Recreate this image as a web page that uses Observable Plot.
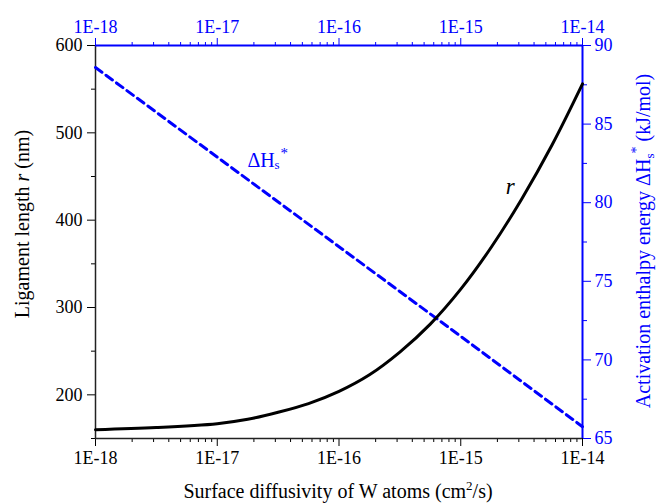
<!DOCTYPE html>
<html>
<head>
<meta charset="utf-8">
<script src="https://cdn.jsdelivr.net/npm/d3@7"></script>
<script src="https://cdn.jsdelivr.net/npm/@observablehq/plot@0.6"></script>
<style>
  body { margin: 0; background: #fff; }
</style>
</head>
<body>
<div id="chart"></div>
<script>
// ---- data ----
const diffusivity = [1e-18, 3.16e-18, 1e-17, 1.78e-17, 3.16e-17, 5.62e-17, 1e-16, 1.78e-16, 3.16e-16, 5.62e-16, 1e-15, 1.78e-15, 3.16e-15, 5.62e-15, 1e-14];
const ligamentLength = [160, 162.5, 167, 172, 180, 190, 204, 223, 249, 281, 321, 369, 424, 486, 556];

const enthalpyDiffusivity = [1e-18, 1e-17, 1e-16, 1e-15, 1e-14];
const activationEnthalpy = [88.6, 82.9, 77.2, 71.5, 65.75];

const xDecades = [1e-18, 1e-17, 1e-16, 1e-15, 1e-14];
const xTickLabels = ["1E-18", "1E-17", "1E-16", "1E-15", "1E-14"];
const leftMajor = [200, 300, 400, 500, 600];
const leftMinor = [150, 250, 350, 450, 550];
const rightMajor = [65, 70, 75, 80, 85, 90];
const rightMinor = [67.5, 72.5, 77.5, 82.5, 87.5];

// ---- setup ----
const font = "Liberation Serif";
const blue = "#0000ff";
const xMinor = xDecades.slice(0, -1).flatMap(d => d3.range(2, 10).map(k => d * k));
const H2r = d3.scaleLinear([65, 90], [150, 600]);

const rData = diffusivity.map((D, i) => ({D, r: ligamentLength[i]}));
const hData = enthalpyDiffusivity.map((D, i) => ({D, H: activationEnthalpy[i]}));

const xLabel = d => xTickLabels[xDecades.indexOf(d)] ?? "";
const axisCommon = {label: null, fontSize: 18, fontFamily: font};

const plot = Plot.plot({
  width: 656,
  height: 504,
  marginLeft: 95,
  marginRight: 74,
  marginTop: 45,
  marginBottom: 66,
  style: {fontFamily: font, fontSize: "18px", background: "white", color: "black", overflow: "visible"},
  x: {type: "log", domain: [1e-18, 1e-14]},
  y: {domain: [150, 600]},
  marks: [
    // bottom axis (black)
    Plot.axisX({...axisCommon, anchor: "bottom", ticks: xDecades, tickFormat: xLabel, tickSize: 8, tickPadding: 5}),
    Plot.axisX({...axisCommon, anchor: "bottom", ticks: xMinor, tickFormat: () => "", tickSize: 4}),
    // top axis (blue)
    Plot.axisX({...axisCommon, anchor: "top", ticks: xDecades, tickFormat: xLabel, tickSize: 8, tickPadding: 5, color: blue}),
    Plot.axisX({...axisCommon, anchor: "top", ticks: xMinor, tickFormat: () => "", tickSize: 4, color: blue}),
    // left axis (black)
    Plot.axisY({...axisCommon, anchor: "left", ticks: leftMajor, tickSize: 8, tickPadding: 5}),
    Plot.axisY({...axisCommon, anchor: "left", ticks: leftMinor, tickFormat: () => "", tickSize: 4}),
    // right axis (blue), values mapped from ΔH to the r scale
    Plot.axisY(rightMajor.map(H2r), {...axisCommon, anchor: "right", tickFormat: d => String(Math.round(H2r.invert(d))), tickSize: 8, tickPadding: 4, color: blue}),
    Plot.axisY(rightMinor.map(H2r), {...axisCommon, anchor: "right", tickFormat: () => "", tickSize: 4, color: blue}),
    // frame lines
    Plot.ruleY([150], {stroke: "#222", strokeWidth: 1.5}),
    Plot.ruleX([1e-18], {stroke: "#222", strokeWidth: 1.5}),
    Plot.ruleY([600], {stroke: blue, strokeWidth: 2}),
    Plot.ruleX([1e-14], {stroke: blue, strokeWidth: 2}),
    // series
    Plot.line(hData, {x: "D", y: d => H2r(d.H), stroke: blue, strokeWidth: 3, strokeDasharray: "8,5"}),
    Plot.line(rData, {x: "D", y: "r", stroke: "black", strokeWidth: 3, curve: "catmull-rom"}),
    // annotations
    Plot.text([{D: 1.77e-17, H: 82.3}], {x: "D", y: d => H2r(d.H), text: () => "ΔH", fill: blue, fontSize: 20, fontFamily: font, textAnchor: "start", lineAnchor: "bottom"}),
    Plot.text([{D: 1.77e-17, H: 82.3}], {x: "D", y: d => H2r(d.H), text: () => "s", fill: blue, fontSize: 13, fontFamily: font, textAnchor: "start", lineAnchor: "bottom", dx: 27, dy: 2}),
    Plot.text([{D: 1.77e-17, H: 82.3}], {x: "D", y: d => H2r(d.H), text: () => "*", fill: blue, fontSize: 15, fontFamily: font, textAnchor: "start", lineAnchor: "bottom", dx: 33, dy: -9}),
    Plot.text([{D: 2.34e-15, r: 430}], {x: "D", y: "r", text: () => "r", fill: "black", fontSize: 23, fontFamily: font, fontStyle: "italic", textAnchor: "start", lineAnchor: "bottom"})
  ]
});

document.getElementById("chart").appendChild(plot);

// ---- axis titles with rich text ----
const svg = d3.select(plot);
svg.attr("font-family", font);
const g = svg.append("g").attr("font-family", font);

const tb = g.append("text").attr("x", 338).attr("y", 498).attr("text-anchor", "middle").attr("font-size", 20).attr("fill", "black");
tb.append("tspan").text("Surface diffusivity of W atoms (cm");
tb.append("tspan").attr("dy", -8).attr("font-size", 13).text("2");
tb.append("tspan").attr("dy", 8).text("/s)");

const tl = g.append("text").attr("transform", "translate(29,224) rotate(-90)").attr("text-anchor", "middle").attr("font-size", 20).attr("fill", "black");
tl.append("tspan").text("Ligament length ");
tl.append("tspan").attr("font-style", "italic").text("r");
tl.append("tspan").text(" (nm)");

const tr = g.append("text").attr("transform", "translate(650,241) rotate(-90)").attr("text-anchor", "middle").attr("font-size", 20).attr("fill", blue);
tr.append("tspan").text("Activation enthalpy energy ΔH");
tr.append("tspan").attr("dy", 4).attr("font-size", 13).text("s");
tr.append("tspan").attr("dy", -13).attr("font-size", 14).text("*");
tr.append("tspan").attr("dy", 9).text(" (kJ/mol)");

svg.selectAll("text, tspan").attr("font-family", font);
</script>
</body>
</html>
